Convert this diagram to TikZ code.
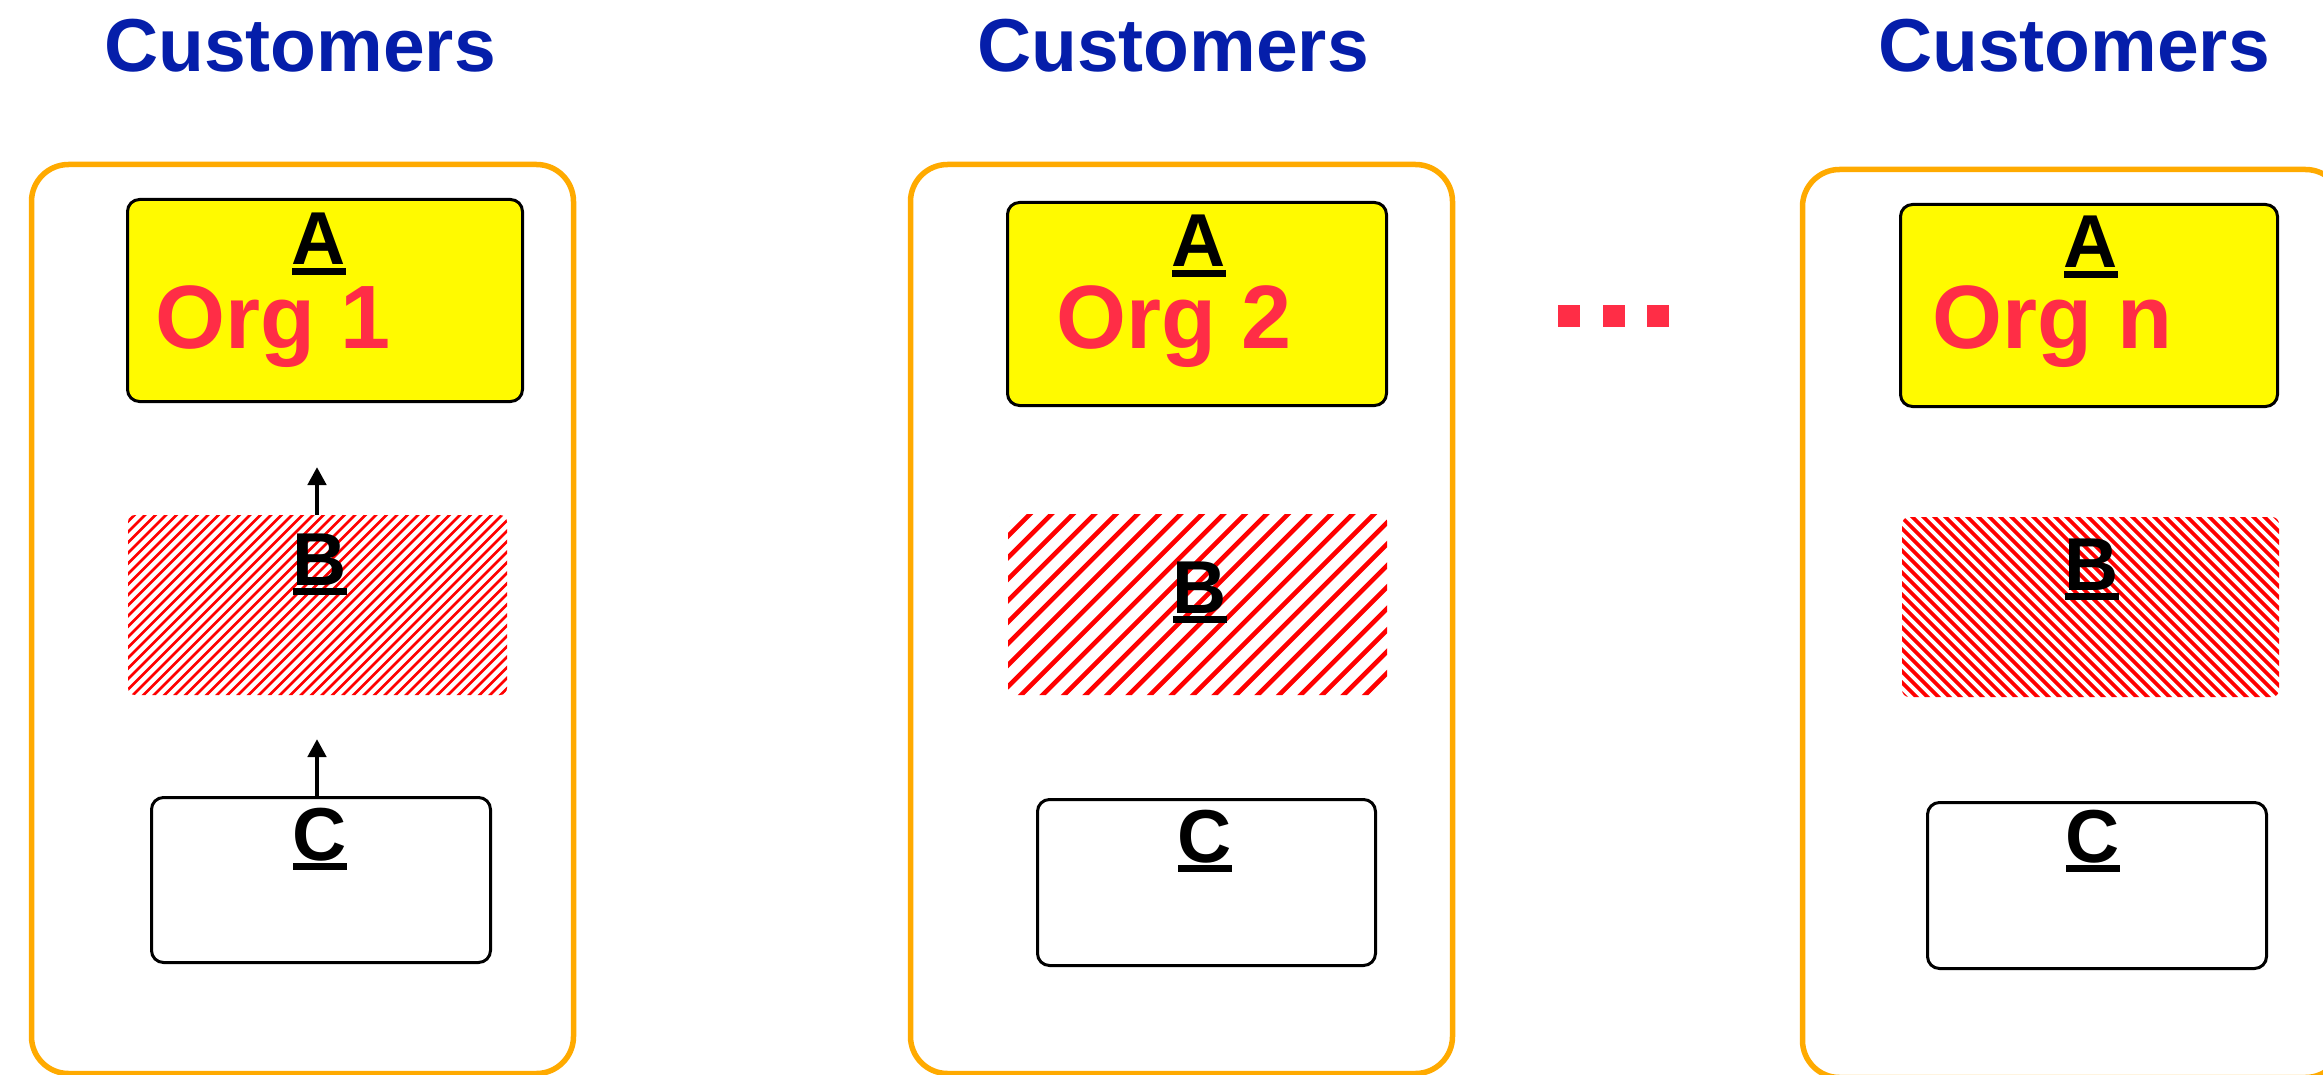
\documentclass[tikz,border=0pt]{standalone}
\usepackage{fontspec}
\setmainfont{Liberation Sans}
\usetikzlibrary{arrows.meta}
\definecolor{custblue}{RGB}{5,30,170}
\definecolor{orgred}{RGB}{255,45,70}
\definecolor{boxyellow}{RGB}{255,250,0}
\definecolor{panelorange}{RGB}{255,170,0}
\definecolor{hatchred}{RGB}{255,0,0}
\newsavebox\ulsave
\newcommand\ulbox[1]{\sbox\ulsave{#1}\rlap{\raisebox{-10pt}{\rule{\wd\ulsave}{7pt}}}\usebox\ulsave}
\tikzset{
  panel/.style={draw=panelorange, line width=5.5pt, rounded corners=37pt, inner sep=0pt, outer sep=0pt},
  abox/.style={draw=black, fill=boxyellow, line width=3pt, rounded corners=12pt, inner sep=0pt, outer sep=0pt},
  cbox/.style={draw=black, fill=white, line width=3pt, rounded corners=12pt, inner sep=0pt, outer sep=0pt},
  bbox/.style={rounded corners=7pt, inner sep=0pt, outer sep=0pt},
  hatchne/.style 2 args={path picture={
    \foreach \k in {-32,...,32}{
      \draw[hatchred, line width=#2] ([xshift=\k*#1]path picture bounding box.center) +(-300pt,-300pt) -- +(300pt,300pt);}}},
  hatchnw/.style 2 args={path picture={
    \foreach \k in {-32,...,32}{
      \draw[hatchred, line width=#2] ([xshift=\k*#1]path picture bounding box.center) +(-300pt,300pt) -- +(300pt,-300pt);}}},
  letter/.style={font=\fontsize{75}{75}\selectfont\bfseries, anchor=base, inner sep=0pt},
  orglabel/.style={font=\fontsize{90}{90}\selectfont\bfseries, text=orgred, anchor=base west, inner sep=0pt},
  custlabel/.style={font=\fontsize{75}{75}\selectfont\bfseries, text=custblue, anchor=base, inner sep=0pt},
  uparrow/.style={line width=4.5pt, -{Triangle[length=18pt,width=18pt]}},
  dotsq/.style={fill=orgred, inner sep=0pt, minimum size=22pt}
}
\begin{document}
\begin{tikzpicture}[x=1pt, y=-1pt]
\useasboundingbox (0,0) rectangle (2323,1075);
\fill[white] (0,0) rectangle (2323,1075);

% titles
\node[custlabel] (cust1) at (300,72) {Customers};
\node[custlabel] (cust2) at (1173,72) {Customers};
\node[custlabel] (cust3) at (2074,72) {Customers};

% panels
\node[panel, minimum width=542pt, minimum height=909pt] (p1) at (302.5,619) {};
\node[panel, minimum width=542pt, minimum height=909pt] (p2) at (1181.5,619) {};
\node[panel, minimum width=540pt, minimum height=908pt] (p3) at (2072.5,623.5) {};

% A boxes
\node[abox, minimum width=395pt, minimum height=202pt] (a1) at (325,300.5) {};
\node[abox, minimum width=379pt, minimum height=203pt] (a2) at (1197,304) {};
\node[abox, minimum width=377pt, minimum height=202pt] (a3) at (2089,305.5) {};

% B boxes
\node[bbox, hatchne={10.5pt}{2.8pt}, minimum width=379pt, minimum height=180pt] (b1) at (317.5,605) {};
\node[bbox, hatchne={21.5pt}{4.6pt}, minimum width=379pt, minimum height=181pt] (b2) at (1197.5,604.5) {};
\node[bbox, hatchnw={11pt}{3.6pt}, minimum width=377pt, minimum height=180pt] (b3) at (2090.5,607) {};

% C boxes
\node[cbox, minimum width=339pt, minimum height=165pt] (c1) at (321,880) {};
\node[cbox, minimum width=338pt, minimum height=166pt] (c2) at (1206.5,882.5) {};
\node[cbox, minimum width=339pt, minimum height=166pt] (c3) at (2097,885.5) {};

% labels A
\node[letter] (la1) at (319,265) {\ulbox{A}};
\node[letter] (la2) at (1199,267) {\ulbox{A}};
\node[letter] (la3) at (2091,268) {\ulbox{A}};
% Org labels
\node[orglabel] (o1) at (155,348) {Org 1};
\node[orglabel] (o2) at (1056,348) {Org 2};
\node[orglabel] (o3) at (1932,348) {Org n};
% labels B
\node[letter] (lb1) at (320,585) {\ulbox{B}};
\node[letter] (lb2) at (1200,613) {\ulbox{B}};
\node[letter] (lb3) at (2092,590) {\ulbox{B}};
% labels C
\node[letter] (lc1) at (320,860) {\ulbox{C}};
\node[letter] (lc2) at (1205,862) {\ulbox{C}};
\node[letter] (lc3) at (2093,862) {\ulbox{C}};

% arrows in panel 1
\coordinate (t1) at (317,467);
\coordinate (t2) at (317,739);
\draw[uparrow] (b1.north -| t1) -- (t1);
\draw[uparrow] (c1.north -| t2) -- (t2);

% ellipsis dots
\node[dotsq] (d1) at (1569,316) {};
\node[dotsq] (d2) at (1614,316) {};
\node[dotsq] (d3) at (1658,316) {};
\end{tikzpicture}
\end{document}
